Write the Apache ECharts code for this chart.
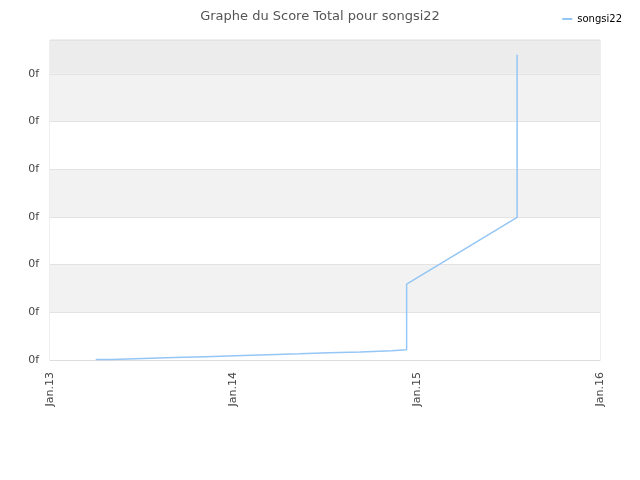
<!DOCTYPE html>
<html>
<head>
<meta charset="utf-8">
<script src="https://cdn.jsdelivr.net/npm/echarts@6/dist/echarts.min.js"></script>
<style>
  html, body { margin: 0; padding: 0; background: #fff; }
  #chart { width: 640px; height: 480px; }
</style>
</head>
<body>
<div id="chart"></div>
<script>
// Score total de songsi22 (1 graduation = 100).
const scoreDates = ['2013-04-02', '2013-05-04', '2013-07-05', '2013-09-05', '2013-11-06',
  '2014-01-06', '2014-03-11', '2014-05-12', '2014-07-11', '2014-09-11', '2014-11-12',
  '2014-12-12', '2015-07-20', '2015-07-20'];
const scoreValues = [1, 3, 5, 7, 9, 11, 13, 15, 17, 19.5, 21.5, 159, 299, 640];
// true = saut vertical à cette date, false = segment en pente depuis le point précédent
const scoreJumps = [false, true, true, true, true, true, true, true, true, true, true, true, false, true];

const yearTicks = ['Jan.13', 'Jan.14', 'Jan.15', 'Jan.16'];
const yLabel = '0f';

const DAY = 86400000;
const origin = Date.UTC(2013, 0, 1);
const dayOf = (s) => (Date.parse(s + 'T00:00:00Z') - origin) / DAY;

// construit la polyligne en escalier
const points = [];
scoreDates.forEach((d, i) => {
  const x = dayOf(d);
  if (i > 0 && scoreJumps[i]) points.push([x, scoreValues[i - 1]]);
  points.push([x, scoreValues[i]]);
});

const chart = echarts.init(document.getElementById('chart'), null, { renderer: 'canvas' });
chart.setOption({
  animation: false,
  textStyle: { fontFamily: 'DejaVu Sans' },
  title: {
    text: 'Graphe du Score Total pour songsi22',
    left: 'center', top: 5,
    textStyle: { fontSize: 13, fontWeight: 'normal', color: '#555', fontFamily: 'DejaVu Sans' },
  },
  legend: {
    right: 13, top: 9,
    icon: 'rect', itemWidth: 10, itemHeight: 2, itemGap: 8,
    textStyle: { fontSize: 10, color: '#000', fontFamily: 'DejaVu Sans' },
    data: ['songsi22'],
  },
  grid: { left: 50, right: 40, top: 40, bottom: 120, show: true, borderColor: '#ddd', borderWidth: 1, backgroundColor: 'transparent' },
  xAxis: {
    type: 'value', min: 0, max: 1095, interval: 365,
    axisLine: { show: true, lineStyle: { color: '#ddd' } },
    axisTick: { show: false },
    splitLine: { show: false },
    axisLabel: {
      rotate: 90, margin: 12, fontSize: 11, color: '#444',
      formatter: (v) => yearTicks[Math.round(v / 365)] || '',
    },
  },
  yAxis: {
    type: 'value', min: 0, max: 671, interval: 100,
    axisLine: { show: false },
    axisTick: { show: false },
    splitLine: { show: true, lineStyle: { color: '#e3e3e3' } },
    splitArea: { show: true, areaStyle: { color: ['#ffffff', '#f2f2f2', '#ffffff', '#f2f2f2', '#ffffff', '#f2f2f2', '#ececec'] } },
    axisLabel: { margin: 11, fontSize: 11, color: '#444', showMaxLabel: false, formatter: () => yLabel },
  },
  series: [{
    name: 'songsi22',
    type: 'line',
    data: points,
    showSymbol: false,
    symbol: 'none',
    lineStyle: { color: '#94c6f6', width: 1.5 },
    itemStyle: { color: '#94c6f6' },
  }],
});
</script>
</body>
</html>
